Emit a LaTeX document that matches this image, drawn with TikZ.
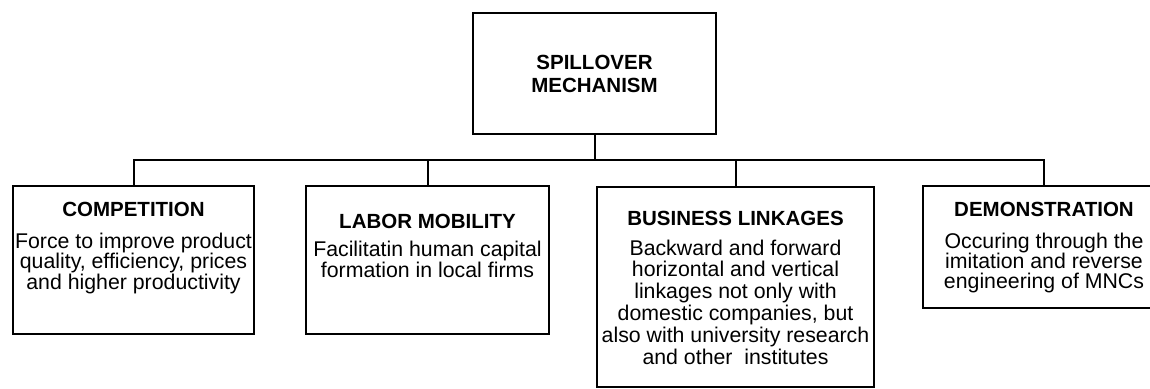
\documentclass[tikz,border=0pt]{standalone}
\usepackage{fontspec}
\setmainfont{Liberation Sans}

% Box content: width, height, first-baseline offset, title, extra gap, body line spacing, body
\newcommand\cardtext[7]{%
  \parbox[c][#2pt][t]{#1pt}{\centering
    \fontsize{20.5}{23}\selectfont\bfseries\rule{0pt}{#3pt}#4\par
    \vspace{#5pt}%
    \fontsize{21.3}{#6pt}\selectfont\mdseries #7\par}}

\begin{document}
\begin{tikzpicture}[x=1pt,y=-1pt,
  card/.style={draw, line width=2pt, inner sep=0pt, anchor=north west},
  wire/.style={line width=2pt}]
\useasboundingbox (0,0) rectangle (1150,388);
\clip (0,0) rectangle (1150,388);

% root
\node[card] (root) at (472,12) {%
  \parbox[c][121pt][t]{243pt}{\centering
    \fontsize{20.5}{23}\selectfont\bfseries\rule{0pt}{56pt}SPILLOVER\\MECHANISM\par}};

% mechanisms
\node[card] (comp) at (12,185) {\cardtext{241}{148}{30}{COMPETITION}{12.5}{19.5}{%
  Force to improve product\\quality, efficiency, prices\\and higher productivity}};
\node[card] (labor) at (305,185) {\cardtext{243}{148}{42}{LABOR MOBILITY}{7}{21}{%
  Facilitatin human capital\\formation in local firms}};
\node[card] (biz) at (596,186) {\cardtext{277}{200}{38}{BUSINESS LINKAGES}{8.2}{21.8}{%
  Backward and forward\\horizontal and vertical\\linkages not only with\\domestic companies, but\\also with university research\\and other\ \ institutes}};
\node[card] (demo) at (922,185) {\cardtext{242}{122}{30}{DEMONSTRATION}{12}{20}{%
  Occuring through the\\imitation and reverse\\engineering of MNCs}};

% tree connectors
\coordinate (hub) at (root.south |- 0,160);
\draw[wire] (root.south) -- (hub);
\draw[wire] (comp.north) |- (hub) -| (demo.north);
\draw[wire] (labor.north) -- (labor.north |- hub);
\draw[wire] (biz.north) -- (biz.north |- hub);
\end{tikzpicture}
\end{document}
